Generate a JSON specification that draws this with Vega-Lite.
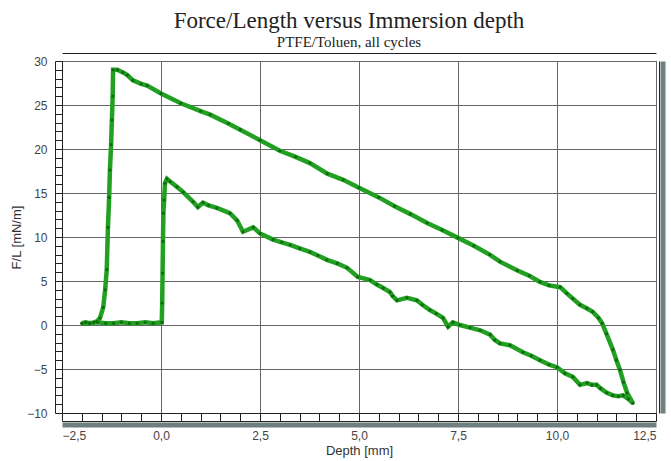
{
  "$schema": "https://vega.github.io/schema/vega-lite/v6.json",
  "width": 594,
  "height": 352,
  "autosize": {"type": "none"},
  "padding": {"left": 62, "top": 61, "right": 15, "bottom": 48},
  "background": "white",
  "title": {
    "text": "Force/Length versus Immersion depth",
    "subtitle": "PTFE/Toluen, all cycles",
    "font": "Liberation Serif",
    "fontSize": 23,
    "fontWeight": "normal",
    "subtitleFont": "Liberation Serif",
    "subtitleFontSize": 15,
    "color": "#222",
    "subtitleColor": "#222",
    "anchor": "middle",
    "offset": 3,
    "subtitlePadding": 2,
    "dx": -10
  },
  "data": {"values": [
    {"i":1,"x":-2.0,"y":0.2},{"i":2,"x":-1.9,"y":0.3},{"i":3,"x":-1.8,"y":0.2},{"i":4,"x":-1.7,"y":0.3},{"i":5,"x":-1.62,"y":0.4},
    {"i":6,"x":-1.54,"y":0.8},{"i":7,"x":-1.46,"y":2.0},{"i":8,"x":-1.41,"y":4.0},{"i":9,"x":-1.37,"y":6.3},{"i":10,"x":-1.34,"y":11.1},
    {"i":11,"x":-1.31,"y":14.5},{"i":12,"x":-1.29,"y":17.6},{"i":13,"x":-1.26,"y":20.5},{"i":14,"x":-1.24,"y":23.3},{"i":15,"x":-1.22,"y":26.0},
    {"i":16,"x":-1.21,"y":29.0},{"i":17,"x":-1.1,"y":29.0},{"i":18,"x":-0.96,"y":28.7},{"i":19,"x":-0.85,"y":28.4},{"i":20,"x":-0.71,"y":27.8},
    {"i":21,"x":-0.5,"y":27.4},{"i":22,"x":-0.35,"y":27.2},{"i":23,"x":0.0,"y":26.3},{"i":24,"x":0.5,"y":25.2},{"i":25,"x":1.0,"y":24.3},
    {"i":26,"x":1.24,"y":23.9},{"i":27,"x":1.7,"y":22.9},{"i":28,"x":2.0,"y":22.2},{"i":29,"x":2.5,"y":21.0},{"i":30,"x":3.0,"y":19.8},
    {"i":31,"x":3.4,"y":19.1},{"i":32,"x":3.76,"y":18.4},{"i":33,"x":4.2,"y":17.2},{"i":34,"x":4.6,"y":16.5},{"i":35,"x":5.0,"y":15.6},
    {"i":36,"x":5.5,"y":14.5},{"i":37,"x":5.9,"y":13.5},{"i":38,"x":6.3,"y":12.6},{"i":39,"x":6.72,"y":11.6},{"i":40,"x":7.1,"y":10.8},
    {"i":41,"x":7.5,"y":9.9},{"i":42,"x":7.9,"y":9.0},{"i":43,"x":8.3,"y":8.0},{"i":44,"x":8.56,"y":7.2},{"i":45,"x":9.0,"y":6.2},
    {"i":46,"x":9.3,"y":5.6},{"i":47,"x":9.57,"y":4.9},{"i":48,"x":9.8,"y":4.5},{"i":49,"x":10.08,"y":4.3},{"i":50,"x":10.25,"y":3.6},
    {"i":51,"x":10.4,"y":3.0},{"i":52,"x":10.58,"y":2.3},{"i":53,"x":10.75,"y":1.9},{"i":54,"x":10.9,"y":1.5},{"i":55,"x":11.05,"y":0.8},
    {"i":56,"x":11.14,"y":0.2},{"i":57,"x":11.25,"y":-1.0},{"i":58,"x":11.41,"y":-2.8},{"i":59,"x":11.5,"y":-4.0},{"i":60,"x":11.59,"y":-5.1},
    {"i":61,"x":11.68,"y":-6.5},{"i":62,"x":11.77,"y":-7.7},{"i":63,"x":11.92,"y":-8.9},{"i":64,"x":11.8,"y":-8.4},{"i":65,"x":11.67,"y":-8.0},
    {"i":66,"x":11.55,"y":-8.1},{"i":67,"x":11.41,"y":-8.0},{"i":68,"x":11.26,"y":-7.7},{"i":69,"x":11.1,"y":-7.2},{"i":70,"x":11.0,"y":-6.8},
    {"i":71,"x":10.88,"y":-6.8},{"i":72,"x":10.76,"y":-6.6},{"i":73,"x":10.58,"y":-6.8},{"i":74,"x":10.4,"y":-5.9},{"i":75,"x":10.2,"y":-5.5},
    {"i":76,"x":10.0,"y":-4.8},{"i":77,"x":9.8,"y":-4.5},{"i":78,"x":9.57,"y":-4.0},{"i":79,"x":9.35,"y":-3.5},{"i":80,"x":9.14,"y":-3.1},
    {"i":81,"x":8.81,"y":-2.3},{"i":82,"x":8.56,"y":-2.1},{"i":83,"x":8.43,"y":-1.7},{"i":84,"x":8.31,"y":-1.1},{"i":85,"x":8.06,"y":-0.6},
    {"i":86,"x":7.8,"y":-0.3},{"i":87,"x":7.55,"y":0.0},{"i":88,"x":7.37,"y":0.3},{"i":89,"x":7.25,"y":-0.2},{"i":90,"x":7.12,"y":0.8},
    {"i":91,"x":6.95,"y":1.3},{"i":92,"x":6.79,"y":1.7},{"i":93,"x":6.6,"y":2.3},{"i":94,"x":6.46,"y":2.8},{"i":95,"x":6.21,"y":3.1},
    {"i":96,"x":5.96,"y":2.8},{"i":97,"x":5.85,"y":3.3},{"i":98,"x":5.78,"y":3.75},{"i":99,"x":5.61,"y":4.2},{"i":100,"x":5.45,"y":4.6},
    {"i":101,"x":5.28,"y":5.1},{"i":102,"x":4.97,"y":5.45},{"i":103,"x":4.7,"y":6.5},{"i":104,"x":4.45,"y":7.0},{"i":105,"x":4.19,"y":7.4},
    {"i":106,"x":3.96,"y":7.9},{"i":107,"x":3.76,"y":8.3},{"i":108,"x":3.5,"y":8.7},{"i":109,"x":3.26,"y":9.1},{"i":110,"x":3.05,"y":9.4},
    {"i":111,"x":2.83,"y":9.7},{"i":112,"x":2.5,"y":10.4},{"i":113,"x":2.33,"y":11.1},{"i":114,"x":2.07,"y":10.6},{"i":115,"x":1.92,"y":11.9},
    {"i":116,"x":1.74,"y":12.7},{"i":117,"x":1.41,"y":13.3},{"i":118,"x":1.2,"y":13.6},{"i":119,"x":1.06,"y":13.9},{"i":120,"x":0.93,"y":13.4},
    {"i":121,"x":0.81,"y":14.0},{"i":122,"x":0.56,"y":15.1},{"i":123,"x":0.4,"y":15.7},{"i":124,"x":0.23,"y":16.3},{"i":125,"x":0.15,"y":16.6},
    {"i":126,"x":0.1,"y":16.1},{"i":127,"x":0.08,"y":14.2},{"i":128,"x":0.06,"y":12.7},{"i":129,"x":0.05,"y":9.5},{"i":130,"x":0.04,"y":5.9},
    {"i":131,"x":0.03,"y":2.5},{"i":132,"x":0.02,"y":0.3},{"i":133,"x":-0.2,"y":0.2},{"i":134,"x":-0.4,"y":0.3},{"i":135,"x":-0.6,"y":0.2},
    {"i":136,"x":-0.8,"y":0.2},{"i":137,"x":-1.0,"y":0.3},{"i":138,"x":-1.2,"y":0.2},{"i":139,"x":-1.4,"y":0.2},{"i":140,"x":-1.6,"y":0.3},
    {"i":141,"x":-1.8,"y":0.2},{"i":142,"x":-2.0,"y":0.2}
  ]},
  "config": {
    "view": {"stroke": "#222", "strokeWidth": 1},
    "axis": {
      "labelFont": "Liberation Sans",
      "titleFont": "Liberation Sans",
      "labelFontSize": 12,
      "titleFontSize": 13,
      "labelColor": "#444",
      "titleColor": "#333",
      "titleFontWeight": "normal"
    }
  },
  "resolve": {"axis": {"x": "independent", "y": "independent"}},
  "layer": [
    {
      "mark": {"type": "line", "color": "#22a022", "strokeWidth": 4.5, "point": {"filled": true, "size": 10, "color": "#0c6a0c"}},
      "encoding": {
        "x": {"field": "x", "type": "quantitative",
          "scale": {"domain": [-2.5, 12.5], "nice": false, "zero": false},
          "axis": {"orient": "bottom", "values": [-2.5, 0, 2.5, 5, 7.5, 10, 12.5],
            "labelExpr": "replace(format(datum.value, '.1f'), '.', ',')",
            "grid": true, "gridColor": "#666", "gridOpacity": 1, "ticks": false, "domain": false,
            "labelPadding": 17, "title": "Depth [mm]", "titlePadding": 3}},
        "y": {"field": "y", "type": "quantitative",
          "scale": {"domain": [-10, 30], "nice": false, "zero": false},
          "axis": {"orient": "left", "values": [-10, -5, 0, 5, 10, 15, 20, 25, 30],
            "grid": true, "gridColor": "#666", "gridOpacity": 1, "ticks": false, "domain": false,
            "labelPadding": 15, "title": "F/L [mN/m]", "titlePadding": 3}},
        "order": {"field": "i", "type": "quantitative"}
      }
    },
    {
      "mark": {"type": "point", "opacity": 0},
      "encoding": {
        "x": {"field": "x", "type": "quantitative",
          "axis": {"orient": "bottom", "values": [-2.5,-2,-1.5,-1,-0.5,0,0.5,1,1.5,2,2.5,3,3.5,4,4.5,5,5.5,6,6.5,7,7.5,8,8.5,9,9.5,10,10.5,11,11.5,12,12.5],
            "labels": false, "grid": false, "ticks": true, "tickSize": 8, "tickColor": "#222", "domain": true, "domainColor": "#222", "title": null}},
        "y": {"field": "y", "type": "quantitative",
          "axis": {"orient": "left", "values": [-10,-9,-8,-7,-6,-5,-4,-3,-2,-1,0,1,2,3,4,5,6,7,8,9,10,11,12,13,14,15,16,17,18,19,20,21,22,23,24,25,26,27,28,29,30],
            "labels": false, "grid": false, "ticks": true, "tickSize": 7, "tickColor": "#222", "domain": true, "domainColor": "#222", "title": null}}
      }
    },
    {
      "mark": {"type": "point", "opacity": 0},
      "encoding": {
        "x": {"field": "x", "type": "quantitative",
          "axis": {"orient": "bottom", "offset": 8, "labels": false, "grid": false, "ticks": false, "domain": true, "domainColor": "#222", "title": null}},
        "y": {"field": "y", "type": "quantitative",
          "axis": {"orient": "left", "offset": 7, "labels": false, "grid": false, "ticks": false, "domain": true, "domainColor": "#222", "title": null}}
      }
    },
    {
      "mark": {"type": "point", "opacity": 0},
      "encoding": {
        "x": {"field": "x", "type": "quantitative",
          "axis": {"orient": "top", "offset": 8, "labels": false, "grid": false, "ticks": false, "domain": true, "domainColor": "#222", "title": null}},
        "y": {"field": "y", "type": "quantitative",
          "axis": {"orient": "right", "offset": 3, "labels": false, "grid": false, "ticks": false, "domain": true, "domainColor": "#222", "title": null}}
      }
    },
    {
      "mark": {"type": "point", "opacity": 0},
      "encoding": {
        "x": {"field": "x", "type": "quantitative",
          "axis": {"orient": "bottom", "offset": 11.5, "labels": false, "grid": false, "ticks": false, "domain": true, "domainColor": "#6e7f80", "domainWidth": 5, "title": null}},
        "y": {"field": "y", "type": "quantitative",
          "axis": {"orient": "right", "offset": 6.5, "labels": false, "grid": false, "ticks": false, "domain": true, "domainColor": "#6e7f80", "domainWidth": 5, "title": null}}
      }
    }
  ]
}
